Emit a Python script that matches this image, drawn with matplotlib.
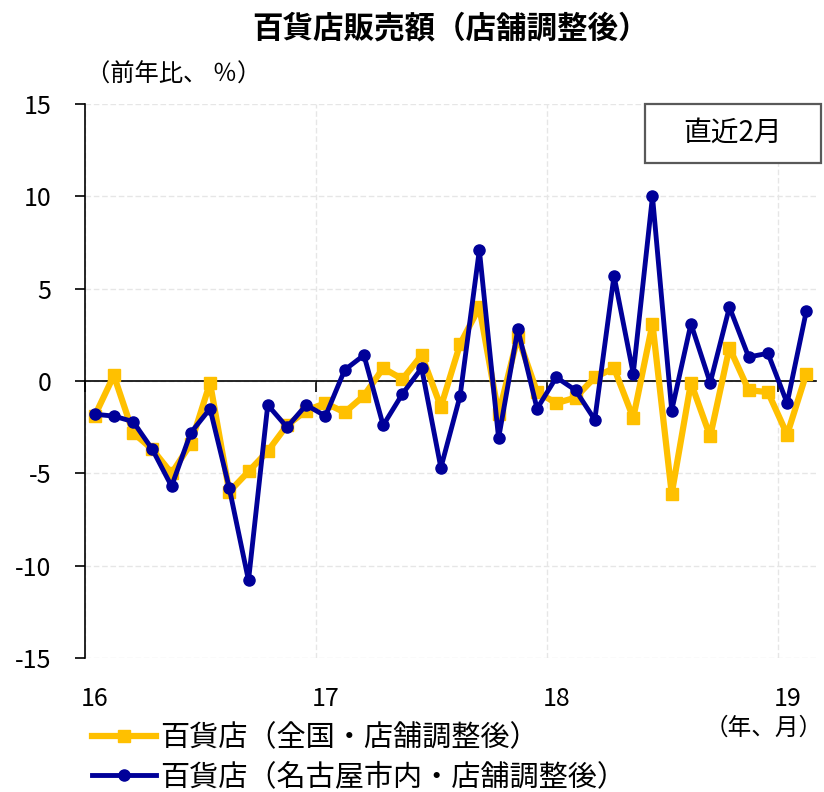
import numpy as np
import matplotlib
matplotlib.use('Agg')
import matplotlib.pyplot as plt
from matplotlib.patches import Rectangle

plt.rcParams['font.family'] = ['Noto Sans CJK JP', 'DejaVu Sans']
plt.rcParams['axes.unicode_minus'] = False

# monthly, Jan 2016 - Feb 2019 (y/y %)
year_labels = ['16', '17', '18', '19']
national = [-1.9, 0.3, -2.8, -3.7, -5.0, -3.4, -0.1, -6.0, -4.9, -3.8, -2.4, -1.6,
            -1.2, -1.7, -0.8, 0.7, 0.1, 1.4, -1.4, 2.0, 4.0, -1.8, 2.4, -0.6,
            -1.2, -0.9, 0.2, 0.7, -2.0, 3.1, -6.1, -0.1, -3.0, 1.8, -0.5, -0.6,
            -2.9, 0.4]
nagoya = [-1.8, -1.9, -2.2, -3.7, -5.7, -2.8, -1.5, -5.8, -10.8, -1.3, -2.5, -1.3,
          -1.9, 0.6, 1.4, -2.4, -0.7, 0.7, -4.7, -0.8, 7.1, -3.1, 2.8, -1.5,
          0.2, -0.5, -2.1, 5.7, 0.4, 10.0, -1.6, 3.1, -0.1, 4.0, 1.3, 1.5,
          -1.2, 3.8]
label_national = '百貨店（全国・店舗調整後）'
label_nagoya = '百貨店（名古屋市内・店舗調整後）'

x = np.arange(len(national))

fig = plt.figure(figsize=(8.24, 7.92), dpi=100)
ax = fig.add_axes([85/824, 1-658/792, (816-85)/824, (658-104)/792])

ax.plot(x, national, color='#FFC000', lw=4.5, marker='s', ms=8.5, label=label_national, zorder=3)
ax.plot(x, nagoya, color='#000099', lw=3.5, marker='o', ms=8, label=label_nagoya, zorder=4)

ax.set_xlim(-0.5, len(x) - 0.5)
ax.set_ylim(-15, 15)
ax.set_yticks(np.arange(-15, 16, 5))
ax.tick_params(axis='y', direction='out', length=7, width=1.2, pad=17, labelsize=18)

# category axis at zero, ticks between years
year_starts = np.arange(0, len(x), 12)
ax.set_xticks(year_starts - 0.5)
ax.set_xticklabels([])
ax.tick_params(axis='x', direction='out', length=8, width=1.2)
ax.spines['bottom'].set_position(('data', 0))
ax.spines['bottom'].set_linewidth(1.2)
ax.spines['left'].set_linewidth(1.2)
ax.spines['top'].set_visible(False)
ax.spines['right'].set_visible(False)

sec = ax.secondary_xaxis('bottom')
sec.set_xticks(year_starts)
sec.set_xticklabels(year_labels)
sec.tick_params(length=0, pad=20, labelsize=18)
sec.spines['bottom'].set_visible(False)

ax.grid(True, color='#e6e6e6', lw=1, ls=(0, (4, 2)))
ax.set_axisbelow(True)

fig.text(450/824, 1-28/792, '百貨店販売額（店舗調整後）', ha='center', va='center',
         fontsize=22, fontweight='bold')
fig.text(86/824, 1-75/792, '（前年比、 ％）', ha='left', va='center', fontsize=17.5)
fig.text(823/824, 1-728/792, '（年、月）', ha='right', va='center', fontsize=17)

fig.patches.append(Rectangle((645/824, 1-163/792), 176/824, 59/792, transform=fig.transFigure,
                             facecolor='white', edgecolor='#595959', lw=1.6, zorder=5))
fig.text(733/824, 1-133/792, '直近2月', ha='center', va='center', fontsize=20, zorder=6)

fig.legend(loc='upper left', bbox_to_anchor=(80/824, 1-712/792), frameon=False,
           fontsize=21, handlelength=2.2, handletextpad=0.15, labelspacing=0.3,
           borderaxespad=0)

fig.savefig('out.png', dpi=100)
